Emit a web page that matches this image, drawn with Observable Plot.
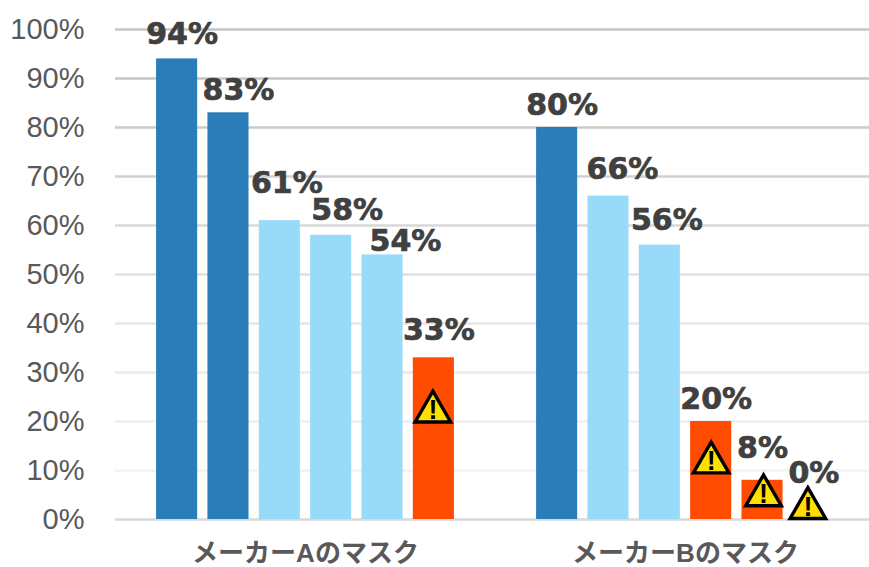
<!DOCTYPE html>
<html><head><meta charset="utf-8">
<script src="https://cdn.jsdelivr.net/npm/d3@7"></script>
<script src="https://cdn.jsdelivr.net/npm/@observablehq/plot@0.6"></script>
<style>html,body{margin:0;padding:0;background:#fff;overflow:hidden}svg{display:block}</style>
</head><body><div id="chart"></div>
<script>
const makers = ["メーカーAのマスク","メーカーBのマスク"];
const slots = [0,1,2,3,4,5];
const makerIndex = [0,0,0,0,0,0,1,1,1,1,1,1];
const slotIndex = [0,1,2,3,4,5,0,1,2,3,4,5];
const values = [94,83,61,58,54,33,80,66,56,20,8,0];
const levels = ["high","high","mid","mid","mid","low","high","mid","mid","low","low","low"];
const yTicks = [0,10,20,30,40,50,60,70,80,90,100];
const gridColors = ["#d9d9d9","#f2f2f2","#efefef","#ebebeb","#e6e6e6","#e0e0e0","#d8d8d8","#d0d0d0","#cacaca","#c6c6c6","#c4c4c4"];
const labelDx = [5,10,7,16,23,5,5,14,7,5,0,0];
const labelDy = [-25,-22,-37,-25,-14,-27,-22,-27,-25,-22,-32,-46];
const warnAt = [null,null,null,null,null,22,null,null,null,11.6,4.9,2.3];
const warnDx = [0,0,0,0,0,-1,0,0,0,0,1,-6];

const rows = values.map((v,i)=>({maker:makers[makerIndex[i]],slot:slotIndex[i],value:v,level:levels[i],i}));
const warns = rows.filter(d=>warnAt[d.i]!=null);
const colors = {domain:["high","mid","low"],range:["#2a7db8","#98dbf9","#ff4c00"]};

const gridMarks = yTicks.map((t,i)=>Plot.ruleY([t],{stroke:gridColors[i],strokeWidth:2.5}));
const labelMarks = rows.map(d=>Plot.text([d],{fx:"maker",x:"slot",y:"value",text:e=>e.value+"%",dx:labelDx[d.i],dy:labelDy[d.i],
  fontFamily:"'DejaVu Sans',sans-serif",fontSize:30,fontWeight:700,fill:"#404040",stroke:"#404040",strokeWidth:.7,textAnchor:"middle",lineAnchor:"middle"}));
const warnMarks = warns.flatMap(d=>[
  Plot.dot([d],{fx:"maker",x:"slot",y:e=>warnAt[e.i],symbol:"triangle",r:13.2,fill:"#ffdf00",stroke:"#000",strokeWidth:3.4,dx:warnDx[d.i]}),
  Plot.text([d],{fx:"maker",x:"slot",y:e=>warnAt[e.i],text:()=>"!",dx:warnDx[d.i],dy:-1,fontSize:27,fontWeight:700,fill:"#000",lineAnchor:"middle"})
]);

const chart = Plot.plot({
  width:869,height:567,marginTop:29,marginBottom:48,marginLeft:115,marginRight:-6,
  style:{fontFamily:"'Liberation Sans',Arial,sans-serif",background:"#fff",overflow:"hidden"},
  fx:{domain:makers,padding:0,label:null},
  x:{domain:slots,paddingInner:.2,paddingOuter:.8,round:false,axis:null},
  y:{domain:[0,100],ticks:yTicks,axis:null},
  color:colors,
  marks:[
    ...gridMarks,
    Plot.barY(rows,{fx:"maker",x:"slot",y:"value",fill:"level"}),
    Plot.axisY({ticks:yTicks,tickSize:0,tickPadding:31,tickFormat:d=>d+"%",fontSize:29,fill:"#595959",label:null,anchor:"left",facetAnchor:"left",marginLeft:115}),
    Plot.axisFx({anchor:"bottom",tickSize:0,tickPadding:24,fontSize:26,fontWeight:700,fill:"#595959",label:null,fontFamily:"'Liberation Sans','Noto Sans CJK JP',sans-serif"}),
    ...labelMarks,
    ...warnMarks
  ]
});
document.getElementById("chart").append(chart);
</script></body></html>
